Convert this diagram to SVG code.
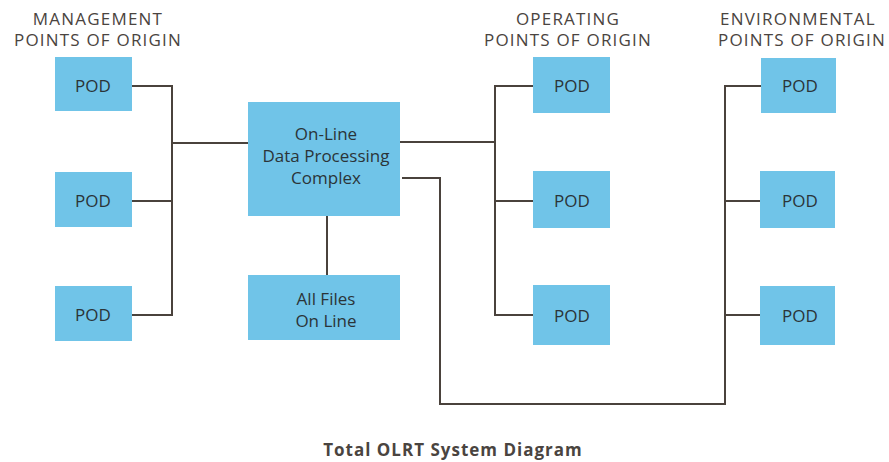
<svg xmlns="http://www.w3.org/2000/svg" width="889" height="462" viewBox="0 0 889 462">
<style>
.box{fill:#70c4e8}
.lbl{font-family:"Open Sans","Liberation Sans",sans-serif;font-size:17px;fill:#2b3438;text-anchor:middle}
.hdr{font-family:"Open Sans","Liberation Sans",sans-serif;font-size:17px;fill:#4a4440;text-anchor:middle;letter-spacing:1.2px}
.cap{font-family:"Open Sans","Liberation Sans",sans-serif;font-size:17px;font-weight:bold;fill:#4a4440;text-anchor:middle;letter-spacing:1px}
.wire{fill:none;stroke:#4a423c;stroke-width:2}
</style>
<rect width="889" height="462" fill="#ffffff"/>
<g id="headers">
<text class="hdr" x="98" y="25">MANAGEMENT</text>
<text class="hdr" x="98" y="46">POINTS OF ORIGIN</text>
<text class="hdr" x="568" y="25">OPERATING</text>
<text class="hdr" x="568" y="46">POINTS OF ORIGIN</text>
<text class="hdr" x="798" y="25">ENVIRONMENTAL</text>
<text class="hdr" x="802" y="46">POINTS OF ORIGIN</text>
</g>
<g id="connectors">
<path class="wire" d="M132 86H172V315H132M132 201H172M172 143H249"/>
<path class="wire" d="M327 216V276"/>
<path class="wire" d="M400 142H495M533 86H495V315H533M495 201H533"/>
<path class="wire" d="M402 178H440V404H725V86H761M725 201H761M725 315H761"/>
</g>
<g id="m1"><rect class="box" x="55" y="57" width="77" height="54"/><text class="lbl" x="93" y="92">POD</text></g>
<g id="m2"><rect class="box" x="55" y="172" width="77" height="55"/><text class="lbl" x="93" y="207">POD</text></g>
<g id="m3"><rect class="box" x="55" y="286" width="77" height="55"/><text class="lbl" x="93" y="321">POD</text></g>
<g id="complex"><rect class="box" x="248" y="102" width="152" height="114"/>
<text class="lbl" x="326" y="140">On-Line</text>
<text class="lbl" x="326" y="162">Data Processing</text>
<text class="lbl" x="326" y="184">Complex</text></g>
<g id="files"><rect class="box" x="248" y="275" width="152" height="65"/>
<text class="lbl" x="326" y="305">All Files</text>
<text class="lbl" x="326" y="327">On Line</text></g>
<g id="o1"><rect class="box" x="533" y="57" width="77" height="56"/><text class="lbl" x="572" y="92">POD</text></g>
<g id="o2"><rect class="box" x="533" y="171" width="77" height="57"/><text class="lbl" x="572" y="207">POD</text></g>
<g id="o3"><rect class="box" x="533" y="285" width="77" height="60"/><text class="lbl" x="572" y="322">POD</text></g>
<g id="e1"><rect class="box" x="761" y="58" width="75" height="55"/><text class="lbl" x="800" y="92">POD</text></g>
<g id="e2"><rect class="box" x="760" y="171" width="75" height="57"/><text class="lbl" x="800" y="207">POD</text></g>
<g id="e3"><rect class="box" x="760" y="286" width="75" height="59"/><text class="lbl" x="800" y="322">POD</text></g>
<text class="cap" x="453" y="456">Total OLRT System Diagram</text>
</svg>
